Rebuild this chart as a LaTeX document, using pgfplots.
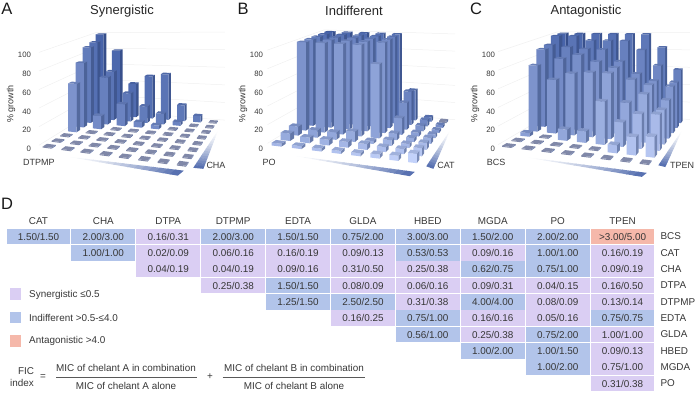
\documentclass[border=0pt]{standalone}
\usepackage{pgfplots}
\pgfplotsset{compat=1.18}
\usepackage{fontspec}
\setmainfont{Liberation Sans}
\definecolor{tS}{RGB}{218,206,243}
\definecolor{tI}{RGB}{178,196,234}
\definecolor{tA}{RGB}{245,184,170}
\definecolor{cL}{RGB}{195,210,250}
\definecolor{cD}{RGB}{72,100,170}
\definecolor{cS}{RGB}{28,48,95}
\definecolor{tG}{RGB}{128,136,168}
\definecolor{txt}{RGB}{55,55,55}
% homography from the floor corners
\newcommand\setH[8]{%
 \pgfmathsetmacro\dxa{#3-#7}\pgfmathsetmacro\dxb{#5-#7}\pgfmathsetmacro\sxx{#1-#3+#7-#5}%
 \pgfmathsetmacro\dya{#4-#8}\pgfmathsetmacro\dyb{#6-#8}\pgfmathsetmacro\syy{#2-#4+#8-#6}%
 \pgfmathsetmacro\den{\dxa*\dyb-\dxb*\dya}%
 \pgfmathsetmacro\Hg{(\sxx*\dyb-\dxb*\syy)/\den}%
 \pgfmathsetmacro\Hh{(\dxa*\syy-\sxx*\dya)/\den}%
 \pgfmathsetmacro\Ha{#3-#1+\Hg*#3}\pgfmathsetmacro\Hb{#5-#1+\Hh*#5}\edef\Hc{#1}%
 \pgfmathsetmacro\Hd{#4-#2+\Hg*#4}\pgfmathsetmacro\He{#6-#2+\Hh*#6}\edef\Hf{#2}%
}
\newcommand\proj[5]{% u v h -> x,y
 \pgfmathsetmacro\uw{(#1)+0.16*(#1)*(1-(#1))}%
 \pgfmathsetmacro\wq{\Hg*\uw+\Hh*(#2)+1}%
 \pgfmathsetmacro#4{(\Ha*\uw+\Hb*(#2)+\Hc)/\wq}%
 \pgfmathsetmacro#5{(149-(\Hd*\uw+\He*(#2)+\Hf)/\wq)/0.94+(#3)/(1+0.8*(\wq-1))}%
}
\newcommand\onebar[3]{% i j h
 \pgfmathsetmacro\ua{(#1-0.24)/7}\pgfmathsetmacro\ub{(#1+0.24)/7}%
 \pgfmathsetmacro\va{(#2-0.24)/7}\pgfmathsetmacro\vb{(#2+0.24)/7}%
 \pgfmathsetmacro\tp{100*(0.75*(7-#2)+0.25*#1)/7}%
 \proj{\ua}{\va}{0}{\xa}{\ya}\proj{\ub}{\va}{0}{\xb}{\yb}\proj{\ub}{\vb}{0}{\xc}{\yc}%
 \proj{\ua}{\va}{#3}{\xd}{\yd}\proj{\ub}{\va}{#3}{\xe}{\ye}\proj{\ub}{\vb}{#3}{\xf}{\yf}\proj{\ua}{\vb}{#3}{\xg}{\yg}%
 \pgfmathparse{#3<3?1:0}\ifdim\pgfmathresult pt>0.5pt
  \edef\topc{tG}\edef\frontc{tG}\else\edef\topc{cL!\tp!cD!82!cS}\edef\frontc{cL!\tp!cD}\fi
 \edef\tmp{\noexpand\addplot[forget plot,draw=none,fill=cL!\tp!cD!58!cS] coordinates {(\xb,\yb)(\xc,\yc)(\xf,\yf)(\xe,\ye)};
 \noexpand\addplot[forget plot,draw=none,fill=\frontc] coordinates {(\xa,\ya)(\xb,\yb)(\xe,\ye)(\xd,\yd)};
 \noexpand\addplot[forget plot,draw=none,fill=\topc] coordinates {(\xd,\yd)(\xe,\ye)(\xf,\yf)(\xg,\yg)};}\tmp
}
\newcommand\barrow[9]{\onebar{0}{#1}{#2}\onebar{1}{#1}{#3}\onebar{2}{#1}{#4}\onebar{3}{#1}{#5}\onebar{4}{#1}{#6}\onebar{5}{#1}{#7}\onebar{6}{#1}{#8}\onebar{7}{#1}{#9}}
\newcommand\gridline[1]{%
 \proj{-0.08}{0}{#1}{\xa}{\ya}\proj{-0.08}{1.09}{#1}{\xb}{\yb}\proj{1.09}{1.09}{#1}{\xc}{\yc}%
 \edef\tmp{\noexpand\addplot[forget plot,draw=black!6,line width=0.5pt] coordinates {(\xa,\ya)(\xb,\yb)(\xc,\yc)};}\tmp
}
% gradient wedge: tip (x1,y1), base (x2,y2)-(x3,y3), in pixels
\newcommand\wdg[6]{%
 \pgfplotsforeachungrouped \kk in {0,1,...,15}{%
  \pgfmathsetmacro\sfa{\kk/16}\pgfmathsetmacro\sfb{(\kk+1.15)/16}%
  \pgfmathsetmacro\xa{#1+\sfa*(#3-#1)}\pgfmathsetmacro\ya{(149-(#2+\sfa*(#4-#2)))/0.94}%
  \pgfmathsetmacro\xb{#1+\sfb*(#3-#1)}\pgfmathsetmacro\yb{(149-(#2+\sfb*(#4-#2)))/0.94}%
  \pgfmathsetmacro\xc{#1+\sfb*(#5-#1)}\pgfmathsetmacro\yc{(149-(#2+\sfb*(#6-#2)))/0.94}%
  \pgfmathsetmacro\xd{#1+\sfa*(#5-#1)}\pgfmathsetmacro\yd{(149-(#2+\sfa*(#6-#2)))/0.94}%
  \pgfmathsetmacro\tp{100*\sfa^1.4}%
  \edef\tmp{\noexpand\addplot[forget plot,draw=none,fill=cD!\tp!white] coordinates {(\xa,\ya)(\xb,\yb)(\xc,\yc)(\xd,\yd)};}\tmp
 }%
}
\pgfplotsset{panel/.style={
  scale only axis,width=196pt,height=190pt,anchor=south west,
  xmin=36,xmax=232,ymin=-43.617,ymax=158.51,clip=false,
  hide x axis,axis y line*=left,y axis line style={draw=none},
  major tick length=0pt,ytick={0,20,40,60,80,100},
  tick label style={font=\fontsize{7.8}{9}\selectfont,text=txt},
  yticklabel style={/pgf/number format/assume math mode=true,xshift=-1.5pt},
  no markers,
  every axis y label/.style={at={(axis cs:11,48)},rotate=90,anchor=center,font=\fontsize{9}{10}\selectfont,text=txt},
  ylabel={\% growth},
  every axis title/.style={at={(axis cs:122,146.5)},anchor=center,font=\fontsize{13}{15}\selectfont,text=black!85},
}}
\newcommand\axlab[3]{\node[font=\fontsize{9}{10}\selectfont,text=txt] at (axis cs:#1,{(149-#2)/0.94}) {#3};}
\newcommand\cell[4]{%
 \pgfmathsetmacro\xa{#1+0.008}\pgfmathsetmacro\xb{#1+0.992}%
 \pgfmathsetmacro\ya{9.5-#2-0.48}\pgfmathsetmacro\yb{9.5-#2+0.48}%
 \edef\tmp{\noexpand\addplot[forget plot,draw=none,fill=#3] coordinates {(\xa,\ya)(\xb,\ya)(\xb,\yb)(\xa,\yb)};}\tmp
 \node[font=\fontsize{9.9}{11}\selectfont,text=txt] at (axis cs:#1+0.5,9.5-#2) {#4};
}
\newcommand\plab[3]{\node[font=\fontsize{16.5}{18}\selectfont,text=black!90,anchor=center] at (#1pt,#2pt) {#3};}
\begin{document}
\begin{tikzpicture}[x=1pt,y=1pt]
\path[use as bounding box] (0,0) rectangle (696,393);
% ---------- A
\begin{axis}[panel,at={(36pt,203pt)},title={Synergistic}]
\setH{49.3}{146.7}{182.7}{164.3}{101}{113.3}{213.3}{122.3}
\gridline{0}\gridline{20}\gridline{40}\gridline{60}\gridline{80}\gridline{100}
\wdg{63}{156}{182.7}{170.5}{176.7}{175.5}
\wdg{218.5}{129.5}{193.5}{167.5}{203.5}{168.5}
\barrow{7}{100}{80}{40}{50}{53}{18}{7}{1}
\barrow{6}{93}{58}{33}{19}{12}{4}{1}{1}
\barrow{5}{90}{55}{25}{6}{4}{1}{1}{1}
\barrow{4}{75}{15}{1}{1}{1}{1}{1}{1}
\barrow{3}{55}{1}{1}{1}{1}{1}{1}{1}
\barrow{2}{1}{1}{1}{1}{1}{1}{1}{1}
\barrow{1}{1}{1}{1}{1}{1}{1}{1}{1}
\barrow{0}{1}{1}{1}{1}{1}{1}{1}{1}
\axlab{39}{162}{DTPMP}
\axlab{216}{165}{CHA}
\end{axis}
% ---------- B
\begin{axis}[panel,at={(268pt,203pt)},title={Indifferent}]
\setH{46.7}{144.7}{181.7}{161}{98}{111.7}{211.7}{121.7}
\gridline{0}\gridline{20}\gridline{40}\gridline{60}\gridline{80}\gridline{100}
\wdg{57}{155}{181.7}{171.7}{176.7}{176}
\wdg{218.5}{129.5}{194.5}{166}{201.5}{168.5}
\barrow{7}{100}{100}{100}{100}{100}{35}{5}{2}
\barrow{6}{100}{100}{100}{100}{100}{38}{7}{3}
\barrow{5}{100}{100}{100}{100}{100}{30}{6}{3}
\barrow{4}{100}{100}{100}{100}{100}{18}{4}{4}
\barrow{3}{100}{100}{100}{100}{80}{7}{4}{6}
\barrow{2}{10}{8}{8}{11}{3}{6}{4}{7}
\barrow{1}{8}{6}{6}{6}{6}{5}{5}{8}
\barrow{0}{3}{3}{3}{3}{3}{4}{5}{9}
\axlab{37}{162}{PO}
\axlab{214}{165}{CAT}
\end{axis}
% ---------- C
\begin{axis}[panel,at={(500pt,203pt)},title={Antagonistic}]
\setH{45}{146}{181.7}{162.7}{99}{112.7}{214}{121.7}
\gridline{0}\gridline{20}\gridline{40}\gridline{60}\gridline{80}\gridline{100}
\wdg{57}{156.5}{181.7}{172.7}{176.7}{176.7}
\wdg{218.5}{129.5}{194.5}{165}{201.5}{166.7}
\barrow{7}{100}{100}{100}{100}{100}{100}{85}{60}
\barrow{6}{100}{100}{95}{95}{95}{85}{68}{50}
\barrow{5}{92}{90}{88}{88}{75}{62}{55}{50}
\barrow{4}{90}{80}{85}{78}{72}{60}{55}{40}
\barrow{3}{75}{60}{68}{70}{70}{40}{50}{35}
\barrow{2}{4}{1}{12}{12}{45}{25}{35}{36}
\barrow{1}{1}{1}{1}{1}{1}{8}{18}{20}
\barrow{0}{1}{1}{1}{1}{1}{1}{1}{1}
\axlab{32}{162}{BCS}
\axlab{218}{165}{TPEN}
\end{axis}
% ---------- D
\begin{axis}[scale only axis,width=649pt,height=163.4pt,at={(6pt,1.3pt)},anchor=south west,
  xmin=0,xmax=10,ymin=0,ymax=10,clip=false,no markers,
  axis line style={draw=none},major tick length=0pt,
  xtick={0.5,1.5,2.5,3.5,4.5,5.5,6.5,7.5,8.5,9.5},
  xticklabels={CAT,CHA,DTPA,DTPMP,EDTA,GLDA,HBED,MGDA,PO,TPEN},
  ytick={0.5,1.5,2.5,3.5,4.5,5.5,6.5,7.5,8.5,9.5},
  yticklabels={PO,MGDA,HBED,GLDA,EDTA,DTPMP,DTPA,CHA,CAT,BCS},
  xticklabel pos=upper,yticklabel pos=upper,
  tick label style={font=\fontsize{9.9}{11}\selectfont,text=txt},
  yticklabel style={anchor=west,xshift=2pt},
  xticklabel style={yshift=0pt},
]
\cell{0}{0}{tI}{1.50/1.50}\cell{1}{0}{tI}{2.00/3.00}\cell{2}{0}{tS}{0.16/0.31}\cell{3}{0}{tI}{2.00/3.00}\cell{4}{0}{tI}{1.50/1.50}
\cell{5}{0}{tI}{0.75/2.00}\cell{6}{0}{tI}{3.00/3.00}\cell{7}{0}{tI}{1.50/2.00}\cell{8}{0}{tI}{2.00/2.00}\cell{9}{0}{tA}{>3.00/5.00}
\cell{1}{1}{tI}{1.00/1.00}\cell{2}{1}{tS}{0.02/0.09}\cell{3}{1}{tS}{0.06/0.16}\cell{4}{1}{tS}{0.16/0.19}\cell{5}{1}{tS}{0.09/0.13}
\cell{6}{1}{tI}{0.53/0.53}\cell{7}{1}{tS}{0.09/0.16}\cell{8}{1}{tI}{1.00/1.00}\cell{9}{1}{tS}{0.16/0.19}
\cell{2}{2}{tS}{0.04/0.19}\cell{3}{2}{tS}{0.04/0.19}\cell{4}{2}{tS}{0.09/0.16}\cell{5}{2}{tS}{0.31/0.50}\cell{6}{2}{tS}{0.25/0.38}
\cell{7}{2}{tI}{0.62/0.75}\cell{8}{2}{tI}{0.75/1.00}\cell{9}{2}{tS}{0.09/0.19}
\cell{3}{3}{tS}{0.25/0.38}\cell{4}{3}{tI}{1.50/1.50}\cell{5}{3}{tS}{0.08/0.09}\cell{6}{3}{tS}{0.06/0.16}\cell{7}{3}{tS}{0.09/0.31}\cell{8}{3}{tS}{0.04/0.15}\cell{9}{3}{tS}{0.16/0.50}
\cell{4}{4}{tI}{1.25/1.50}\cell{5}{4}{tI}{2.50/2.50}\cell{6}{4}{tS}{0.31/0.38}\cell{7}{4}{tI}{4.00/4.00}\cell{8}{4}{tS}{0.08/0.09}\cell{9}{4}{tS}{0.13/0.14}
\cell{5}{5}{tS}{0.16/0.25}\cell{6}{5}{tI}{0.75/1.00}\cell{7}{5}{tS}{0.16/0.16}\cell{8}{5}{tS}{0.05/0.16}\cell{9}{5}{tI}{0.75/0.75}
\cell{6}{6}{tI}{0.56/1.00}\cell{7}{6}{tS}{0.25/0.38}\cell{8}{6}{tI}{0.75/2.00}\cell{9}{6}{tS}{1.00/1.00}
\cell{7}{7}{tI}{1.00/2.00}\cell{8}{7}{tI}{1.00/1.50}\cell{9}{7}{tS}{0.09/0.13}
\cell{8}{8}{tI}{1.00/2.00}\cell{9}{8}{tS}{0.75/1.00}
\cell{9}{9}{tS}{0.31/0.38}
\end{axis}
% legend of D
\fill[tS] (9.5,93) rectangle (21,105);
\fill[tI] (9.5,70) rectangle (21,81);
\fill[tA] (9.5,46) rectangle (21,58);
\begin{scope}[every node/.style={font=\fontsize{9.9}{11}\selectfont,text=txt}]
\node[anchor=west,inner sep=0pt] at (29,98) {Synergistic ≤0.5};
\node[anchor=west,inner sep=0pt] at (29,75) {Indifferent >0.5-≤4.0};
\node[anchor=west,inner sep=0pt] at (29,52) {Antagonistic >4.0};
\node at (26,22) {FIC};
\node at (22,10) {index};
\node at (43,16) {=};
\node at (126,25) {MIC of chelant A in combination};
\node at (126,7) {MIC of chelant A alone};
\node at (210,16) {+};
\node at (294,25) {MIC of chelant B in combination};
\node at (294,7) {MIC of chelant B alone};
\end{scope}
\draw[line width=0.7pt,black!65] (56,16) -- (197,16);
\draw[line width=0.7pt,black!65] (222.7,16) -- (365,16);
\plab{7}{384}{A}\plab{243}{384}{B}\plab{476}{384}{C}\plab{7}{189}{D}
\end{tikzpicture}
\end{document}
